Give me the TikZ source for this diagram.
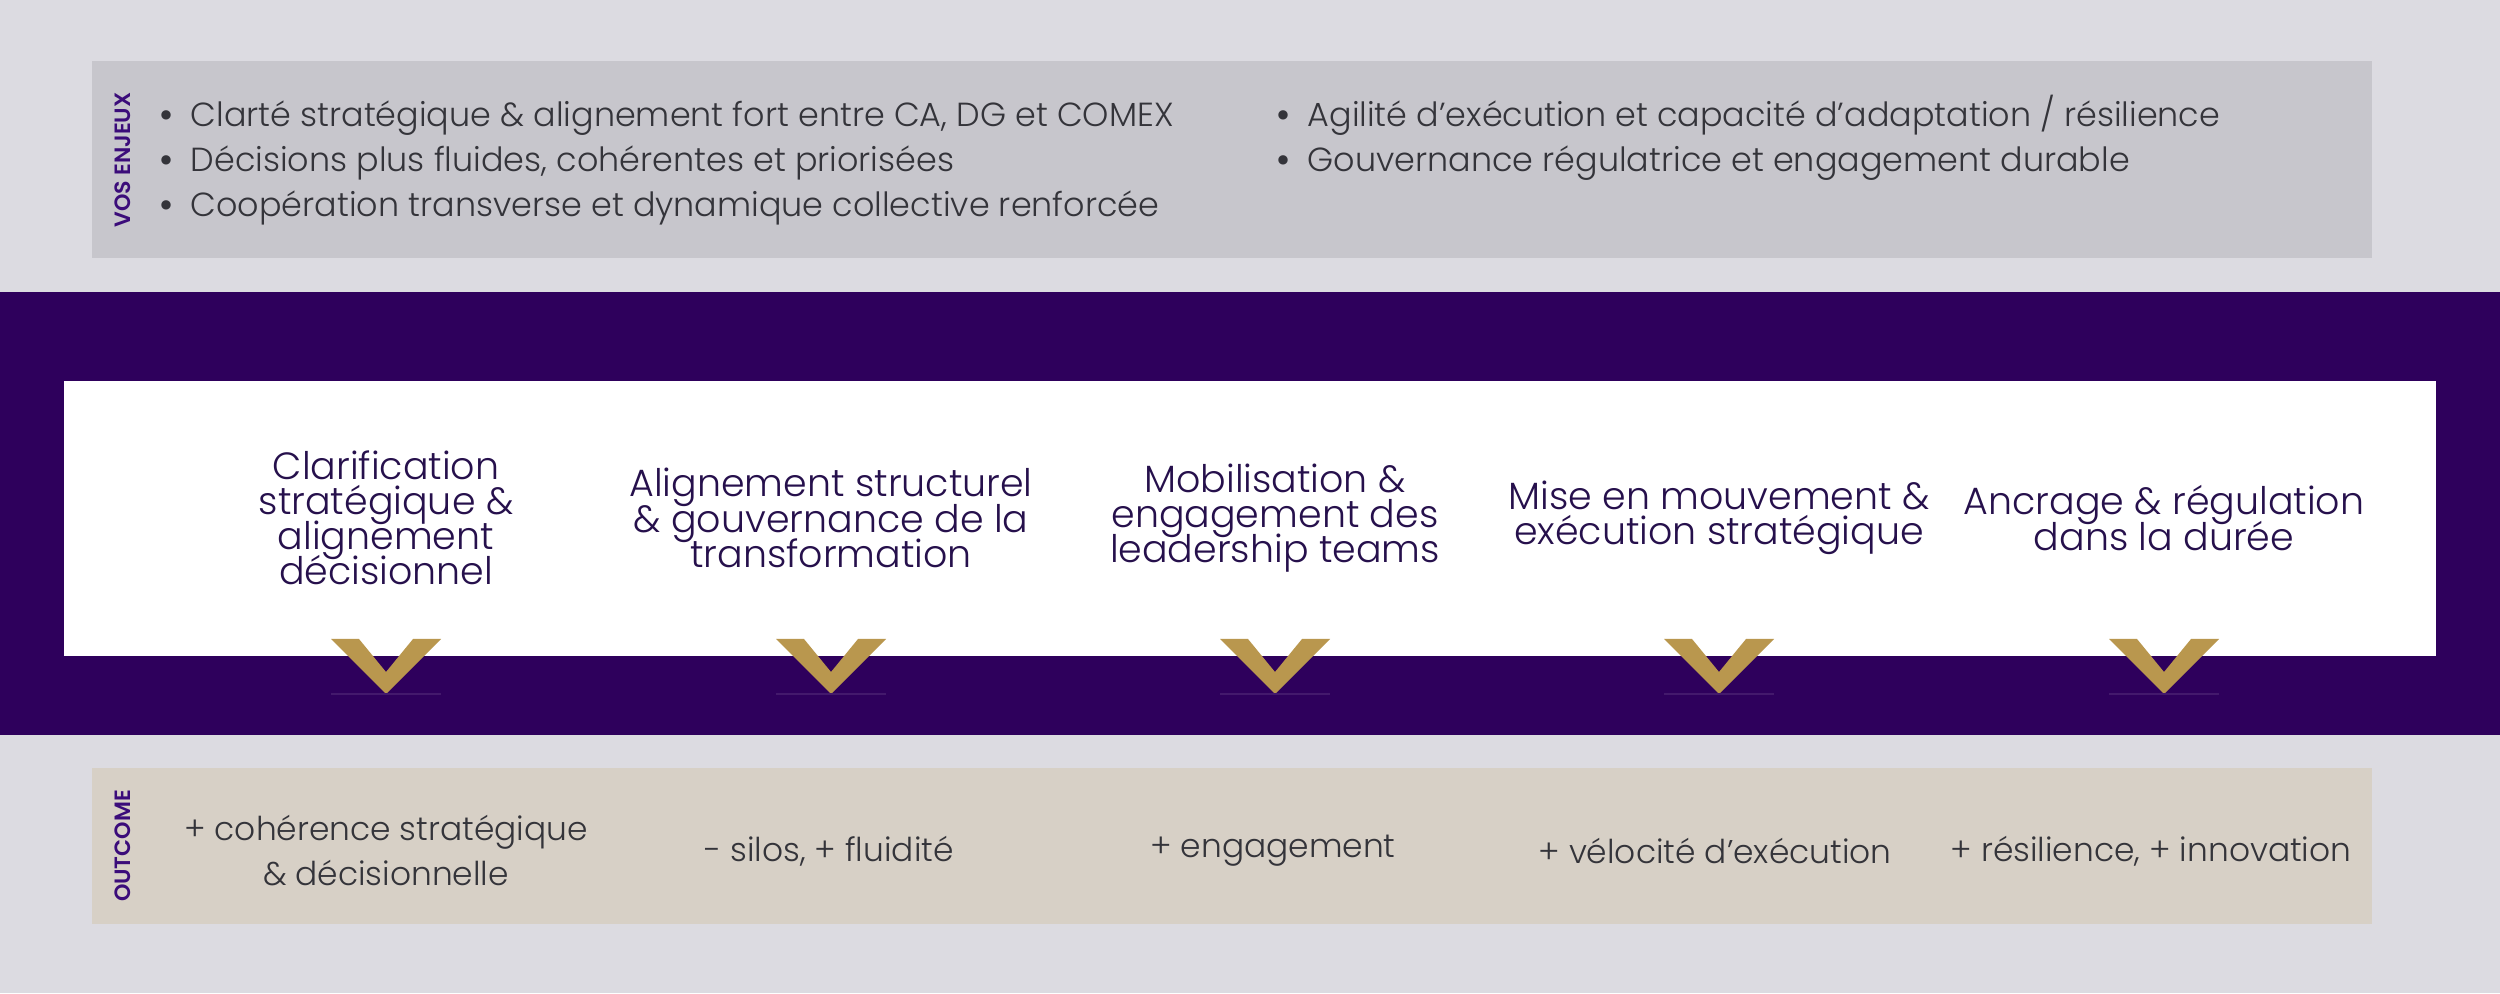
\documentclass[tikz,border=0pt]{standalone}
\usepackage{fontspec}
\usepackage{tikz}
\IfFontExistsTF{Poppins Light}
  {\setmainfont{Poppins Light}}
  {\setmainfont{Poppins}}
\IfFontExistsTF{Poppins SemiBold}
  {\newfontfamily\tagfont{Poppins SemiBold}}
  {\newfontfamily\tagfont{Poppins}}
\definecolor{pagegray}{HTML}{DCDBE1}
\definecolor{enjeuxgray}{HTML}{C7C6CC}
\definecolor{deeppurple}{HTML}{2E005C}
\definecolor{gold}{HTML}{B9974E}
\definecolor{outcomebeige}{HTML}{D7D0C6}
\definecolor{inkgray}{HTML}{34343A}
\definecolor{headink}{HTML}{26104C}
\definecolor{tagpurple}{HTML}{3B0C7A}
\usetikzlibrary{positioning, calc}

\newcommand\bul{\llap{\makebox[13.6pt][c]{\tagfont\textbullet}}}
\newcommand\tightlines{\setlength{\lineskiplimit}{-20pt}\setlength{\lineskip}{0pt}}

\begin{document}
\begin{tikzpicture}[
    bulletline/.style={anchor=base west, inner sep=0pt, text=inkgray, font=\fontsize{9.5}{12.8}\selectfont},
    heading/.style={align=center, inner sep=0pt, text=headink, font=\fontsize{10.8}{10}\selectfont\tightlines},
    outcome/.style={align=center, inner sep=0pt, text=inkgray, font=\fontsize{9.35}{12.8}\selectfont},
    sidetag/.style={rotate=90, inner sep=0pt, text=tagpurple, font=\tagfont\fontsize{6.3}{7}\selectfont}
]
    % bands
    \fill[pagegray] (0,0) rectangle (25,9.93);
    \fill[enjeuxgray] (0.92,7.35) rectangle (23.72,9.32);
    \fill[deeppurple] (0,2.58) rectangle (25,7.01);
    \fill[white] (0.64,3.37) rectangle (24.36,6.12);
    \fill[outcomebeige] (0.92,0.69) rectangle (23.72,2.25);

    % vos enjeux
    \node[sidetag] (tagEnjeux) at (1.23,8.33) {VOS ENJEUX};
    \foreach \txt [count=\i] in {{Clarté stratégique \& alignement fort entre CA, DG et COMEX},
                                 {Décisions plus fluides, cohérentes et priorisées},
                                 {Coopération transverse et dynamique collective renforcée}}
        \node[bulletline] (enjeuA\i) at (1.90,9.11-0.45*\i) {\bul\txt};
    \foreach \txt [count=\i] in {{Agilité d’exécution et capacité d’adaptation / résilience},
                                 {Gouvernance régulatrice et engagement durable}}
        \node[bulletline] (enjeuB\i) at (13.07,9.11-0.45*\i) {\bul\txt};

    % leviers
    \foreach \x/\txt [count=\i] in {3.86/{Clarification\\stratégique \&\\alignement\\décisionnel},
                                    8.31/{Alignement structurel\\\& gouvernance de la\\transformation},
                                    12.75/{Mobilisation \&\\engagement des\\leadership teams},
                                    17.19/{Mise en mouvement \&\\exécution stratégique},
                                    21.64/{Ancrage \& régulation\\dans la durée}}
    {
        \node[heading] (lever\i) at (\x,4.75) {\txt};
        \fill[gold] (\x-0.55,3.54) -- (\x,2.99) -- (\x+0.55,3.54) -- (\x+0.27,3.54)
                    -- (\x,3.21) -- (\x-0.27,3.54) -- cycle;
        \draw[deeppurple!90!white, line width=0.3pt] (\x-0.55,2.99) -- (\x+0.55,2.99);
    }

    % outcome
    \node[sidetag] (tagOutcome) at (1.23,1.47) {OUTCOME};
    \foreach \x/\txt [count=\i] in {3.86/{+ cohérence stratégique\\\& décisionnelle},
                                    8.29/{- silos, + fluidité},
                                    12.73/{+ engagement},
                                    17.15/{+ vélocité d’exécution},
                                    21.51/{+ résilience, + innovation}}
        \node[outcome] (gain\i) at (\x,1.42) {\txt};
\end{tikzpicture}
\end{document}
